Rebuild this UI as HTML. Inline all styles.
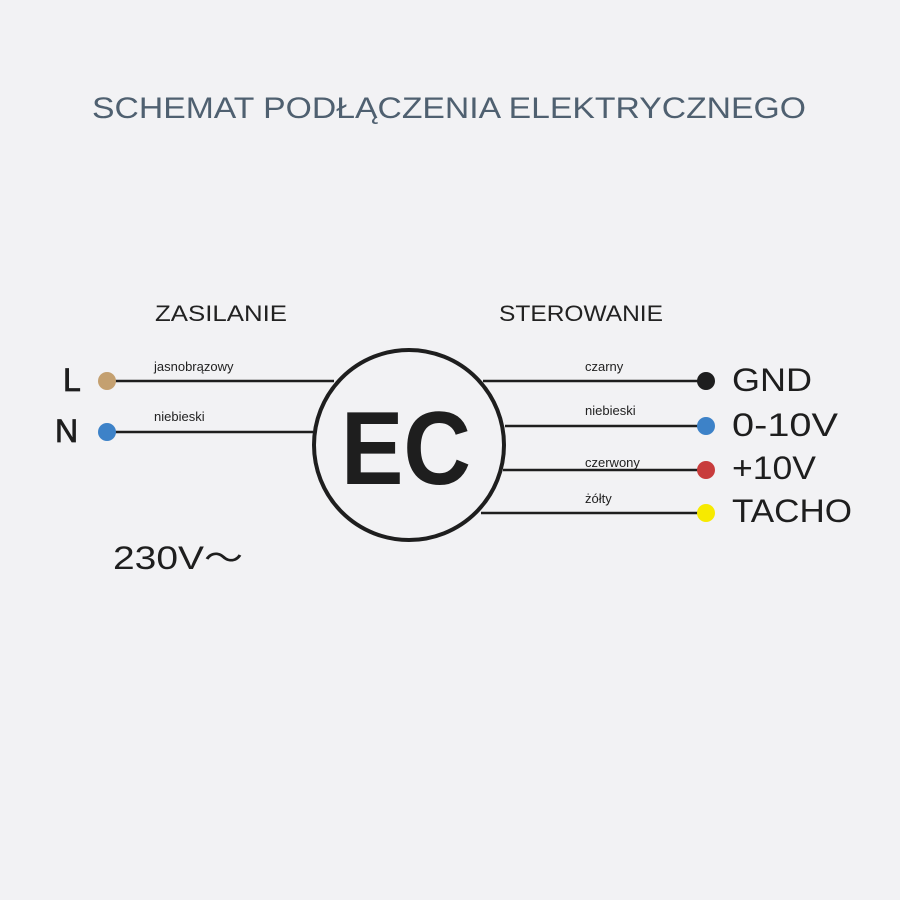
<!DOCTYPE html>
<html><head><meta charset="utf-8"><style>
html,body{margin:0;padding:0;background:#f2f2f4;}
svg{display:block;}
text{font-family:"Liberation Sans",sans-serif;}
</style></head><body>
<svg width="900" height="900" viewBox="0 0 900 900" xmlns="http://www.w3.org/2000/svg">
<rect width="900" height="900" fill="#f2f2f4"/>
<text x="92" y="118" font-size="30" fill="#4f6070" textLength="714" lengthAdjust="spacingAndGlyphs">SCHEMAT PODŁĄCZENIA ELEKTRYCZNEGO</text>
<text x="155" y="321" font-size="22" fill="#222" textLength="132" lengthAdjust="spacingAndGlyphs">ZASILANIE</text>
<text x="499" y="321" font-size="22" fill="#222" textLength="164" lengthAdjust="spacingAndGlyphs">STEROWANIE</text>
<g stroke="#1e1e1e" stroke-width="2.5">
<line x1="107" y1="381" x2="334" y2="381"/>
<line x1="107" y1="432" x2="313" y2="432"/>
<line x1="483" y1="381" x2="706" y2="381"/>
<line x1="505" y1="426" x2="706" y2="426"/>
<line x1="503" y1="470" x2="706" y2="470"/>
<line x1="481" y1="513" x2="706" y2="513"/>
</g>
<circle cx="409" cy="445" r="95" fill="none" stroke="#1e1e1e" stroke-width="4"/>
<text x="341" y="484" font-size="104" font-weight="bold" fill="#1e1e1e" textLength="130" lengthAdjust="spacingAndGlyphs">EC</text>
<circle cx="107" cy="381" r="9" fill="#c4a070"/>
<circle cx="107" cy="432" r="9" fill="#3d82c8"/>
<circle cx="706" cy="381" r="9" fill="#1e1e1e"/>
<circle cx="706" cy="426" r="9" fill="#3d82c8"/>
<circle cx="706" cy="470" r="9" fill="#c83c3c"/>
<circle cx="706" cy="513" r="9" fill="#f7ea00"/>
<g font-size="32" fill="#1e1e1e">
<text x="63" y="391" stroke="#1e1e1e" stroke-width="0.8">L</text>
<text x="55" y="442" stroke="#1e1e1e" stroke-width="0.8">N</text>
<text x="732" y="391" textLength="80" lengthAdjust="spacingAndGlyphs">GND</text>
<text x="732" y="436" textLength="106" lengthAdjust="spacingAndGlyphs">0-10V</text>
<text x="732" y="479" textLength="84" lengthAdjust="spacingAndGlyphs">+10V</text>
<text x="732" y="522" textLength="120" lengthAdjust="spacingAndGlyphs">TACHO</text>
<text x="113" y="569" textLength="130" lengthAdjust="spacingAndGlyphs">230V～</text>
</g>
<g font-size="13" fill="#222">
<text x="154" y="371">jasnobrązowy</text>
<text x="154" y="421">niebieski</text>
<text x="585" y="371">czarny</text>
<text x="585" y="415">niebieski</text>
<text x="585" y="467">czerwony</text>
<text x="585" y="503">żółty</text>
</g>
</svg>
</body></html>
